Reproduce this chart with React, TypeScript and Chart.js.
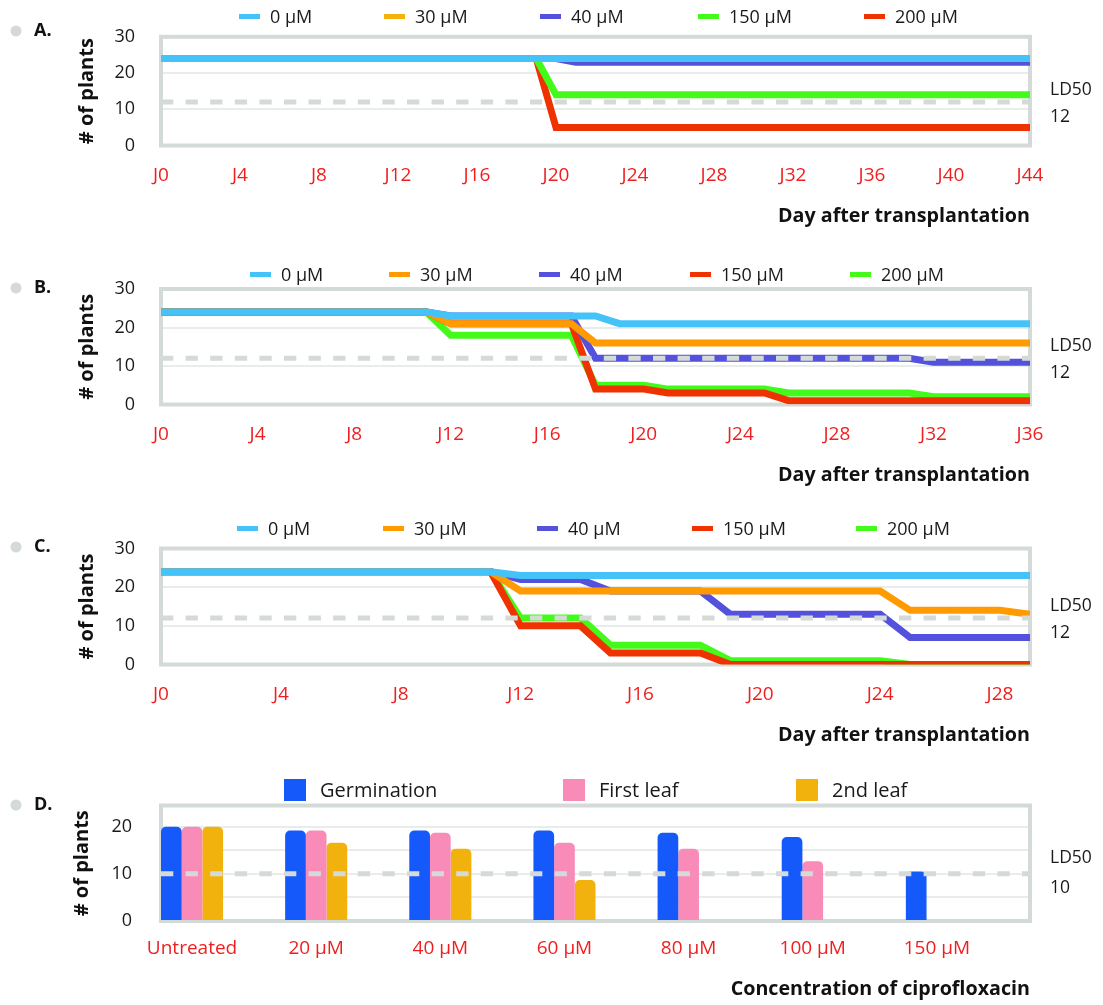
import React, { useEffect, useRef } from 'react';
import { Chart, registerables } from 'chart.js';

Chart.register(...registerables);

type Pt = [number, number];

// ================= DATA =================
// Panel A  (day, number of plants) vertices
const A_SERIES_LABELS = ['0 µM', '30 µM', '40 µM', '150 µM', '200 µM'];
const A_X_MAX = 44;
const A_TICK_DAYS = [0, 4, 8, 12, 16, 20, 24, 28, 32, 36, 40, 44];
const A_TICK_LABELS = ['J0', 'J4', 'J8', 'J12', 'J16', 'J20', 'J24', 'J28', 'J32', 'J36', 'J40', 'J44'];
const A_0UM: Pt[] = [[0, 24], [44, 24]];
const A_30UM: Pt[] = [[0, 24], [44, 24]];
const A_40UM: Pt[] = [[0, 24], [20, 24], [21, 23], [44, 23]];
const A_150UM: Pt[] = [[0, 24], [19, 24], [20, 14], [44, 14]];
const A_200UM: Pt[] = [[0, 24], [19, 24], [20, 5], [44, 5]];
const A_LD50 = 12;

// Panel B
const B_SERIES_LABELS = ['0 µM', '30 µM', '40 µM', '150 µM', '200 µM'];
const B_X_MAX = 36;
const B_TICK_DAYS = [0, 4, 8, 12, 16, 20, 24, 28, 32, 36];
const B_TICK_LABELS = ['J0', 'J4', 'J8', 'J12', 'J16', 'J20', 'J24', 'J28', 'J32', 'J36'];
const B_0UM: Pt[] = [[0, 24], [11, 24], [12, 23], [18, 23], [19, 21], [36, 21]];
const B_30UM: Pt[] = [[0, 24], [11, 24], [12, 21], [17, 21], [18, 16], [36, 16]];
const B_40UM: Pt[] = [[0, 24], [11, 24], [12, 23], [17, 23], [18, 12], [31, 12], [32, 11], [36, 11]];
const B_150UM: Pt[] = [[0, 24], [11, 24], [12, 21], [17, 21], [18, 4], [20, 4], [21, 3], [25, 3], [26, 1], [36, 1]];
const B_200UM: Pt[] = [[0, 24], [11, 24], [12, 18], [17, 18], [18, 5], [20, 5], [21, 4], [25, 4], [26, 3], [31, 3], [32, 2], [36, 2]];
const B_LD50 = 12;

// Panel C
const C_SERIES_LABELS = ['0 µM', '30 µM', '40 µM', '150 µM', '200 µM'];
const C_X_MAX = 29;
const C_TICK_DAYS = [0, 4, 8, 12, 16, 20, 24, 28];
const C_TICK_LABELS = ['J0', 'J4', 'J8', 'J12', 'J16', 'J20', 'J24', 'J28'];
const C_0UM: Pt[] = [[0, 24], [11, 24], [12, 23], [29, 23]];
const C_30UM: Pt[] = [[0, 24], [11, 24], [12, 19], [24, 19], [25, 14], [28, 14], [29, 13]];
const C_40UM: Pt[] = [[0, 24], [11, 24], [12, 22], [14, 22], [15, 19], [18, 19], [19, 13], [24, 13], [25, 7], [29, 7]];
const C_150UM: Pt[] = [[0, 24], [11, 24], [12, 10], [14, 10], [15, 3], [18, 3], [19, 0], [29, 0]];
const C_200UM: Pt[] = [[0, 24], [11, 24], [12, 12], [14, 12], [15, 5], [18, 5], [19, 1], [24, 1], [25, 0], [29, 0]];
const C_LD50 = 12;

const LINE_Y_TICKS = [0, 10, 20, 30];

// Panel D
const D_CATEGORIES = ['Untreated', '20 µM', '40 µM', '60 µM', '80 µM', '100 µM', '150 µM'];
const D_SERIES_LABELS = ['Germination', 'First leaf', '2nd leaf'];
const D_GERMINATION = [20, 19.2, 19.2, 19.2, 18.7, 17.8, 10.5];
const D_FIRST_LEAF = [20, 19.2, 18.7, 16.6, 15.3, 12.7, 0];
const D_SECOND_LEAF = [20, 16.6, 15.3, 8.7, 0, 0, 0];
const D_Y_TICKS = [0, 5, 10, 15, 20];
const D_LD50 = 10;

// ================= STYLE =================
const FONT = '"Open Sans", "Noto Sans", "DejaVu Sans", sans-serif';
const C_BLUE = '#45c3f9';
const C_GOLD = '#f4b20f';
const C_ORANGE = '#ff9a00';
const C_PURPLE = '#5452dc';
const C_GREEN = '#43fa1b';
const C_RED = '#ee3300';
const D_COLORS = ['#1659fa', '#f88bb8', '#f2b20d'];
const FRAME = '#d3dad8';
const GRID = '#e8edeb';
const X_TICK_COLOR = '#f01e1e';
const TEXT = '#1a1a1a';
const CHART_LEFT = 161;
const CHART_RIGHT = 1030;
const PAGE_W = 1103;
const TITLE_SIZE = 19.7;

type Legend = { kind: 'line' | 'box'; labels: string[]; colors: string[]; xs: number[]; y: number; size: number; textGap: number };
type Decor = {
  canvasTop: number; letter: string; letterY: number; ld50: number;
  ldAbove: number; ldBelow: number; legend: Legend;
};

function makeDecor(d: Decor) {
  return {
    id: 'decor',
    beforeDatasetsDraw(chart: any) {
      const { ctx, chartArea: a } = chart;
      ctx.save();
      ctx.strokeStyle = FRAME;
      ctx.lineWidth = 4;
      ctx.strokeRect(a.left, a.top, a.right - a.left, a.bottom - a.top);
      ctx.restore();
    },
    afterDatasetsDraw(chart: any) {
      const { ctx, chartArea: a, scales } = chart;
      const y = scales.y.getPixelForValue(d.ld50);
      ctx.save();
      ctx.strokeStyle = FRAME;
      ctx.lineWidth = 5;
      ctx.setLineDash([12.3, 12.3]);
      ctx.beginPath();
      ctx.moveTo(a.left, y);
      ctx.lineTo(a.right, y);
      ctx.stroke();
      ctx.restore();
    },
    afterDraw(chart: any) {
      const { ctx, chartArea: a, scales } = chart;
      const off = d.canvasTop;
      ctx.save();
      // bullet + panel letter
      ctx.fillStyle = FRAME;
      ctx.beginPath();
      ctx.arc(16, d.letterY - off, 5.5, 0, Math.PI * 2);
      ctx.fill();
      ctx.fillStyle = '#111';
      ctx.font = `bold 18px ${FONT}`;
      ctx.textBaseline = 'middle';
      ctx.textAlign = 'left';
      ctx.fillText(d.letter, 34, d.letterY - off);
      // LD50 labels
      const ly = scales.y.getPixelForValue(d.ld50);
      ctx.font = `17.5px ${FONT}`;
      ctx.fillStyle = TEXT;
      ctx.fillText('LD50', a.right + 20, ly - d.ldAbove);
      ctx.fillText(String(d.ld50), a.right + 20, ly + d.ldBelow);
      // legend
      const lg = d.legend;
      ctx.font = `${lg.size}px ${FONT}`;
      lg.labels.forEach((lab, i) => {
        const x = lg.xs[i];
        const y = lg.y - off;
        ctx.fillStyle = lg.colors[i];
        if (lg.kind === 'line') {
          ctx.fillRect(x, y - 2.5, 21, 5);
        } else {
          ctx.fillRect(x, y - 11, 22, 22);
        }
        ctx.fillStyle = TEXT;
        ctx.fillText(lab, x + lg.textGap, y + 1);
      });
      ctx.restore();
    },
  };
}

type LineSpec = {
  canvasTop: number; chartTop: number; chartBottom: number; titleY: number;
  xMax: number; tickDays: number[]; tickLabels: string[];
  labels: string[]; colors: string[]; series: Pt[][];
  decor: Decor;
};

const LINE_PANELS: LineSpec[] = [
  {
    canvasTop: 0, chartTop: 30.5, chartBottom: 145.5, titleY: 216.5,
    xMax: A_X_MAX, tickDays: A_TICK_DAYS, tickLabels: A_TICK_LABELS,
    labels: A_SERIES_LABELS, colors: [C_BLUE, C_GOLD, C_PURPLE, C_GREEN, C_RED],
    series: [A_0UM, A_30UM, A_40UM, A_150UM, A_200UM],
    decor: {
      canvasTop: 0, letter: 'A.', letterY: 31, ld50: A_LD50, ldAbove: 12, ldBelow: 15,
      legend: { kind: 'line', labels: A_SERIES_LABELS, colors: [C_BLUE, C_GOLD, C_PURPLE, C_GREEN, C_RED], xs: [239, 384, 540, 698, 864], y: 16.5, size: 18, textGap: 31 },
    },
  },
  {
    canvasTop: 250, chartTop: 289, chartBottom: 404.5, titleY: 475,
    xMax: B_X_MAX, tickDays: B_TICK_DAYS, tickLabels: B_TICK_LABELS,
    labels: B_SERIES_LABELS, colors: [C_BLUE, C_ORANGE, C_PURPLE, C_RED, C_GREEN],
    series: [B_0UM, B_30UM, B_40UM, B_150UM, B_200UM],
    decor: {
      canvasTop: 250, letter: 'B.', letterY: 288, ld50: B_LD50, ldAbove: 12, ldBelow: 15,
      legend: { kind: 'line', labels: B_SERIES_LABELS, colors: [C_BLUE, C_ORANGE, C_PURPLE, C_RED, C_GREEN], xs: [250, 389, 539, 690, 850], y: 274.5, size: 18, textGap: 31 },
    },
  },
  {
    canvasTop: 505, chartTop: 548.5, chartBottom: 664.5, titleY: 735.5,
    xMax: C_X_MAX, tickDays: C_TICK_DAYS, tickLabels: C_TICK_LABELS,
    labels: C_SERIES_LABELS, colors: [C_BLUE, C_ORANGE, C_PURPLE, C_RED, C_GREEN],
    series: [C_0UM, C_30UM, C_40UM, C_150UM, C_200UM],
    decor: {
      canvasTop: 505, letter: 'C.', letterY: 547, ld50: C_LD50, ldAbove: 12, ldBelow: 15,
      legend: { kind: 'line', labels: C_SERIES_LABELS, colors: [C_BLUE, C_ORANGE, C_PURPLE, C_RED, C_GREEN], xs: [237, 383, 537, 692, 856], y: 528.5, size: 18, textGap: 31 },
    },
  },
];

function LinePanel({ spec }: { spec: LineSpec }) {
  const ref = useRef<HTMLCanvasElement>(null);
  const lh = TITLE_SIZE * 1.2;
  const height = Math.round(spec.titleY + lh / 2 - spec.canvasTop);
  useEffect(() => {
    const padLeft = 75;
    const xAxisHeight = spec.canvasTop + height - spec.chartBottom;
    const chart = new Chart(ref.current as HTMLCanvasElement, {
      type: 'line',
      data: {
        datasets: spec.series.map((pts, i) => ({
          label: spec.labels[i],
          data: pts.map(([x, y]) => ({ x, y })),
          borderColor: spec.colors[i],
          backgroundColor: spec.colors[i],
          borderWidth: 7,
          pointRadius: 0,
          tension: 0,
          fill: false,
        })),
      },
      options: {
        responsive: false,
        animation: false,
        events: [],
        layout: { padding: { top: spec.chartTop - spec.canvasTop, left: padLeft, right: PAGE_W - CHART_RIGHT, bottom: 0 } },
        plugins: { legend: { display: false }, tooltip: { enabled: false } },
        scales: {
          x: {
            type: 'linear', min: 0, max: spec.xMax, offset: false,
            grid: { display: false }, border: { display: false },
            afterBuildTicks: (s: any) => { s.ticks = spec.tickDays.map((v) => ({ value: v })); },
            afterFit: (s: any) => { s.height = xAxisHeight; },
            ticks: {
              autoSkip: false, maxRotation: 0, padding: 11, color: X_TICK_COLOR,
              font: { family: FONT, size: 19 },
              callback: (v: any) => { const i = spec.tickDays.indexOf(Number(v)); return i >= 0 ? spec.tickLabels[i] : ''; },
            },
            title: { display: true, text: 'Day after transplantation', align: 'end', color: '#111', padding: 0, font: { family: FONT, size: TITLE_SIZE, weight: 'bold' } },
          },
          y: {
            min: 0, max: 30,
            afterBuildTicks: (s: any) => { s.ticks = LINE_Y_TICKS.map((v) => ({ value: v })); },
            afterFit: (s: any) => { s.width = CHART_LEFT - padLeft; },
            grid: { color: GRID, lineWidth: 2, drawTicks: false }, border: { display: false },
            ticks: { padding: 26, color: TEXT, font: { family: FONT, size: 18 } },
            title: { display: true, text: '# of plants', color: '#111', padding: 0, font: { family: FONT, size: 20, weight: 'bold' } },
          },
        },
      } as any,
      plugins: [makeDecor(spec.decor)],
    });
    return () => chart.destroy();
  }, []);
  return <canvas ref={ref} width={PAGE_W} height={height} style={{ position: 'absolute', left: 0, top: spec.canvasTop, display: 'block' }} />;
}

const D_LAYOUT = { canvasTop: 765, chartTop: 805.5, chartBottom: 921, titleY: 989 };

function BarPanel() {
  const ref = useRef<HTMLCanvasElement>(null);
  const lh = TITLE_SIZE * 1.2;
  const height = Math.round(D_LAYOUT.titleY + lh / 2 - D_LAYOUT.canvasTop);
  useEffect(() => {
    const padLeft = 70;
    const xAxisHeight = D_LAYOUT.canvasTop + height - D_LAYOUT.chartBottom;
    const seriesVals = [D_GERMINATION, D_FIRST_LEAF, D_SECOND_LEAF];
    const chart = new Chart(ref.current as HTMLCanvasElement, {
      type: 'bar',
      data: {
        datasets: seriesVals.map((vals, i) => ({
          label: D_SERIES_LABELS[i],
          data: vals.map((v, j) => ({ x: j, y: v })),
          backgroundColor: D_COLORS[i],
          borderWidth: 0,
          borderRadius: 5,
          categoryPercentage: 0.5,
          barPercentage: 1,
        })),
      },
      options: {
        responsive: false,
        animation: false,
        events: [],
        layout: { padding: { top: D_LAYOUT.chartTop - D_LAYOUT.canvasTop, left: padLeft, right: PAGE_W - CHART_RIGHT, bottom: 0 } },
        plugins: { legend: { display: false }, tooltip: { enabled: false } },
        scales: {
          x: {
            type: 'linear', min: -0.25, max: D_CATEGORIES.length - 0.25, offset: false,
            grid: { display: false, offset: false }, border: { display: false },
            afterBuildTicks: (s: any) => { s.ticks = D_CATEGORIES.map((_, i) => ({ value: i })); },
            afterFit: (s: any) => { s.height = xAxisHeight; },
            ticks: {
              autoSkip: false, maxRotation: 0, padding: 8, color: X_TICK_COLOR,
              font: { family: FONT, size: 19 },
              callback: (v: any) => D_CATEGORIES[Number(v)] ?? '',
            },
            title: { display: true, text: 'Concentration of ciprofloxacin', align: 'end', color: '#111', padding: 0, font: { family: FONT, size: TITLE_SIZE, weight: 'bold' } },
          },
          y: {
            min: 0, max: 24.5,
            afterBuildTicks: (s: any) => { s.ticks = D_Y_TICKS.map((v) => ({ value: v })); },
            afterFit: (s: any) => { s.width = CHART_LEFT - padLeft; },
            grid: { color: GRID, lineWidth: 2, drawTicks: false }, border: { display: false },
            ticks: { padding: 29, color: TEXT, font: { family: FONT, size: 18 }, callback: (v: any) => (Number(v) % 10 === 0 ? String(v) : '') },
            title: { display: true, text: '# of plants', color: '#111', padding: 0, font: { family: FONT, size: 20, weight: 'bold' } },
          },
        },
      } as any,
      plugins: [makeDecor({
        canvasTop: D_LAYOUT.canvasTop, letter: 'D.', letterY: 805, ld50: D_LD50, ldAbove: 16, ldBelow: 14,
        legend: { kind: 'box', labels: D_SERIES_LABELS, colors: D_COLORS, xs: [284, 563, 796], y: 790, size: 20, textGap: 36 },
      })],
    });
    return () => chart.destroy();
  }, []);
  return <canvas ref={ref} width={PAGE_W} height={height} style={{ position: 'absolute', left: 0, top: D_LAYOUT.canvasTop, display: 'block' }} />;
}

export default function App() {
  return (
    <div style={{ position: 'absolute', left: 0, top: 0, width: PAGE_W, height: 1005, background: '#fff', overflow: 'hidden' }}>
      {LINE_PANELS.map((p, i) => <LinePanel key={i} spec={p} />)}
      <BarPanel />
    </div>
  );
}
